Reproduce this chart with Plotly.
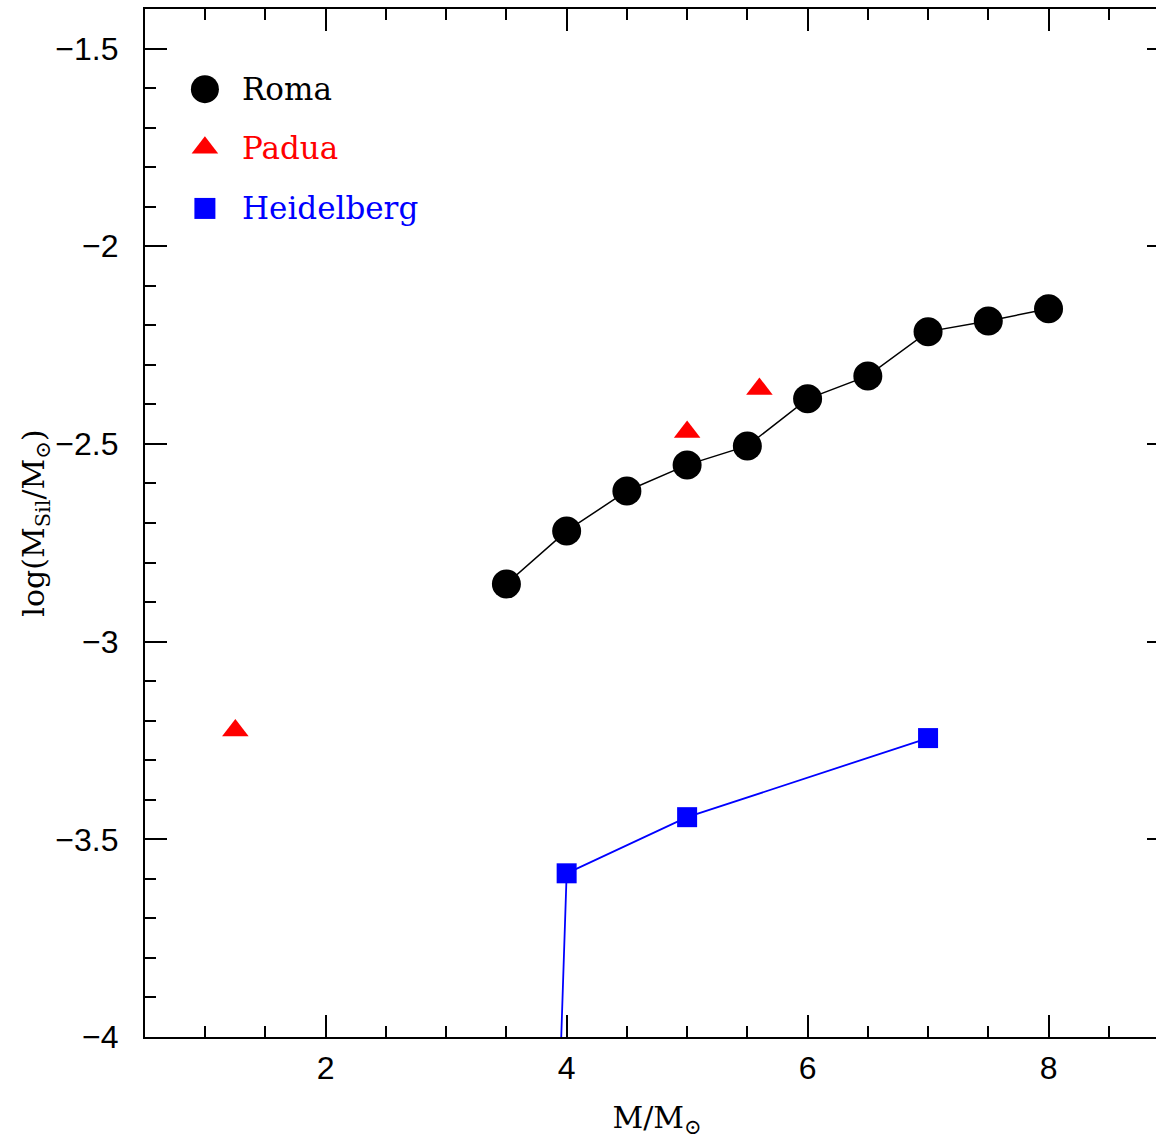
import plotly.graph_objects as go

# Data
roma_x = [3.5, 4.0, 4.5, 5.0, 5.5, 6.0, 6.5, 7.0, 7.5, 8.0]
roma_y = [-2.854, -2.72, -2.619, -2.553, -2.505, -2.386, -2.328, -2.216, -2.189, -2.158]

padua_x = [1.25, 5.0, 5.6]
padua_y = [-3.225, -2.47, -2.361]

heid_x = [3.5, 4.0, 5.0, 7.0]
heid_y = [-8.2, -3.586, -3.444, -3.244]

legend_names = ["Roma", "Padua", "Heidelberg"]
legend_colors = ["black", "red", "blue"]
legend_symbols = ["circle", "triangle-up", "square"]
legend_sizes = [28, 23, 21]
legend_ypos = [0.922, 0.865, 0.806]

SERIF = "DejaVu Serif"
SANS = "Liberation Sans"

fig = go.Figure()
fig.add_trace(go.Scatter(x=roma_x, y=roma_y, mode="lines+markers",
                         line=dict(color="black", width=1.5),
                         marker=dict(symbol="circle", size=29, color="black"),
                         showlegend=False))
fig.add_trace(go.Scatter(x=padua_x, y=padua_y, mode="markers",
                         marker=dict(symbol="triangle-up", size=23, color="red"),
                         showlegend=False))
fig.add_trace(go.Scatter(x=heid_x, y=heid_y, mode="lines+markers",
                         line=dict(color="blue", width=1.8),
                         marker=dict(symbol="square", size=20, color="blue"),
                         showlegend=False))

# Custom legend (overlay axes in unit coordinates)
for name, c, s, sz, yp in zip(legend_names, legend_colors, legend_symbols, legend_sizes, legend_ypos):
    fig.add_trace(go.Scatter(x=[0.0585], y=[yp], xaxis="x2", yaxis="y2", mode="markers",
                             marker=dict(symbol=s, size=sz, color=c), showlegend=False,
                             hoverinfo="skip"))
    fig.add_annotation(x=0.093, y=yp, xref="x2", yref="y2", text=name, showarrow=False,
                       xanchor="left", yanchor="middle",
                       font=dict(family=SERIF, size=31, color=c))

axis_common = dict(showline=True, linecolor="black", linewidth=2.2, mirror="ticks",
                   ticks="inside", tickwidth=2, tickcolor="black", ticklen=22,
                   showgrid=False, zeroline=False,
                   tickfont=dict(family=SANS, size=32, color="black"))

fig.update_layout(
    width=1172, height=1139,
    margin=dict(l=145, r=1, t=9, b=102),
    plot_bgcolor="white", paper_bgcolor="white",
    xaxis=dict(range=[0.5, 9], tick0=0, dtick=2,
               minor=dict(dtick=0.5, ticks="inside", ticklen=11, tickwidth=2, tickcolor="black"),
               ticklabelstandoff=1,
               title=dict(text="M/M<sub>⊙</sub>", font=dict(family=SERIF, size=30, color="black"),
                          standoff=26),
               **axis_common),
    yaxis=dict(range=[-4, -1.4], tick0=0, dtick=0.5,
               minor=dict(dtick=0.1, ticks="inside", ticklen=11, tickwidth=2, tickcolor="black"),
               ticklabelstandoff=18,
               title=dict(text="log(M<sub>Sil</sub>/M<sub>⊙</sub>)",
                          font=dict(family=SERIF, size=30, color="black"), standoff=2),
               **axis_common),
    xaxis2=dict(range=[0, 1], domain=[0, 1], overlaying="x", visible=False, fixedrange=True),
    yaxis2=dict(range=[0, 1], domain=[0, 1], overlaying="y", visible=False, fixedrange=True),
)

fig.write_html("out.html",
               post_script="document.body.style.overflow='hidden';document.documentElement.style.overflow='hidden';document.body.style.margin='0';")
